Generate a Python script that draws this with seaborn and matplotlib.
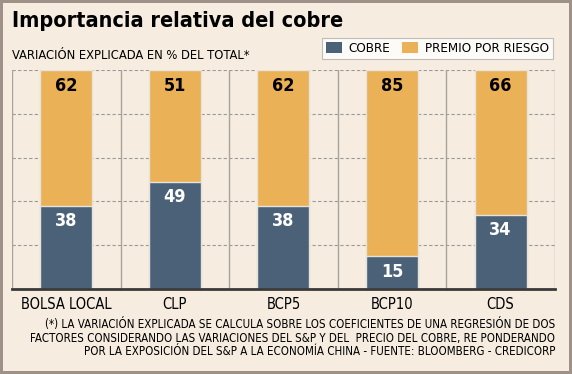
import matplotlib
matplotlib.use("Agg")
import matplotlib.pyplot as plt
import seaborn as sns
from matplotlib.patches import Patch

# -----------------------------
# DATA
# -----------------------------

categories = ["BOLSA LOCAL", "CLP", "BCP5", "BCP10", "CDS"]
cobre = [38, 49, 38, 15, 34]
premio = [62, 51, 62, 85, 66]
total = [c + p for c, p in zip(cobre, premio)]

BLUE = "#4a6178"
ORANGE = "#ebb157"
BG = "#f6ede0"

sns.set_style("white")
plt.rcParams['font.family'] = ['DejaVu Sans Condensed', 'DejaVu Sans']
plt.rcParams['font.stretch'] = 'condensed'
plt.rcParams['text.color'] = 'black'
plt.rcParams['xtick.color'] = 'black'

fig = plt.figure(figsize=(5.72, 3.74), dpi=100, facecolor=BG,
                 linewidth=3, edgecolor="#a09188")
ax = fig.add_axes([0.021, 0.227, 0.949, 0.586])
ax.set_facecolor(BG)

# -----------------------------
# STACKED BARS
# -----------------------------

sns.barplot(x=categories, y=total, color=ORANGE, width=0.48, saturation=1,
            edgecolor="#e6e2dc", linewidth=1, ax=ax, zorder=3)
sns.barplot(x=categories, y=cobre, color=BLUE, width=0.48, saturation=1,
            edgecolor="#e6e2dc", linewidth=1, ax=ax, zorder=3)

for i in range(len(categories)):
    ax.text(i, cobre[i] - 3, str(cobre[i]), ha="center", va="top",
            color="white", fontsize=13, fontweight="bold", zorder=4)
    ax.text(i, total[i] - 3, str(premio[i]), ha="center", va="top",
            color="black", fontsize=13, fontweight="bold", zorder=4)

# -----------------------------
# GRID / AXES
# -----------------------------

ax.set_xlim(-0.5, len(categories) - 0.5)
ax.set_ylim(0, 100)
for yv in [20, 40, 60, 80, 100]:
    ax.axhline(yv, color="#9a9a9a", linestyle=(0, (3, 2)), linewidth=0.8, zorder=1)
for xv in range(len(categories) + 1):
    ax.axvline(xv - 0.5, color="#a8a39c", linewidth=1, zorder=1)

for s in ["top", "right", "left"]:
    ax.spines[s].set_visible(False)
ax.spines["bottom"].set_color("#3a3a3a")
ax.spines["bottom"].set_linewidth(2)
ax.spines["bottom"].set_zorder(5)

ax.set_yticks([])
ax.tick_params(axis="x", length=0, labelsize=10.5, pad=6)
ax.set_xlabel("")
ax.set_ylabel("")

# -----------------------------
# TEXTS
# -----------------------------

fig.text(0.021, 0.945, "Importancia relativa del cobre", fontsize=15.5,
         fontweight="bold", ha="left", va="center")
fig.text(0.021, 0.852, "VARIACIÓN EXPLICADA EN % DEL TOTAL*", fontsize=9.3,
         ha="left", va="center")

handles = [Patch(facecolor=BLUE, edgecolor="none", label="COBRE"),
           Patch(facecolor=ORANGE, edgecolor="none", label="PREMIO POR RIESGO")]
leg = fig.legend(handles=handles, loc="upper right", bbox_to_anchor=(0.967, 0.898),
                 borderaxespad=0, ncol=2, frameon=True, fancybox=False, fontsize=9.6,
                 handlelength=1.2, handleheight=0.9, handletextpad=0.5,
                 columnspacing=0.9, borderpad=0.3)
leg.get_frame().set_edgecolor("#b0b0b0")
leg.get_frame().set_linewidth(0.8)

fig.text(0.971, 0.042,
         "(*) LA VARIACIÓN EXPLICADA SE CALCULA SOBRE LOS COEFICIENTES DE UNA REGRESIÓN DE DOS\n"
         "FACTORES CONSIDERANDO LAS VARIACIONES DEL S&P Y DEL  PRECIO DEL COBRE, RE PONDERANDO\n"
         "POR LA EXPOSICIÓN DEL S&P A LA ECONOMÍA CHINA - FUENTE: BLOOMBERG - CREDICORP",
         fontsize=8.3, ha="right", va="bottom", linespacing=1.05)

plt.savefig("out.png", dpi=100, facecolor=fig.get_facecolor(), edgecolor=fig.get_edgecolor())
